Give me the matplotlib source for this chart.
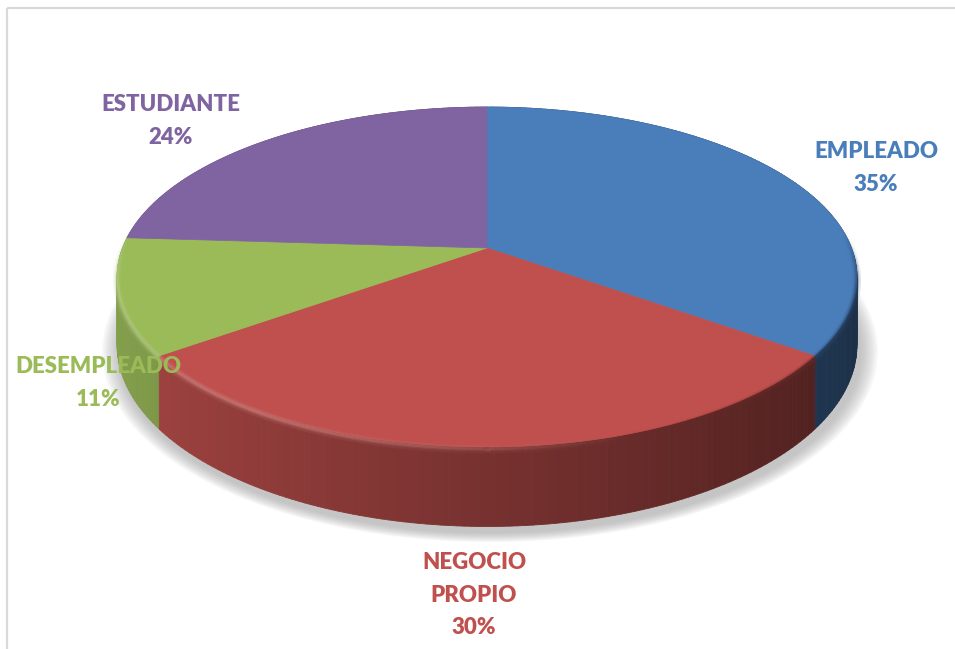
import numpy as np
import matplotlib.pyplot as plt
from matplotlib.patches import Polygon
from matplotlib.collections import PolyCollection, LineCollection
from matplotlib.colors import to_rgb

# occupation split
labels = ['EMPLEADO', 'NEGOCIO\nPROPIO', 'DESEMPLEADO', 'ESTUDIANTE']
values = [35, 30, 11, 24]
colors = ['#4A7EBB', '#C0504D', '#9BBB59', '#8064A2']

# where each label sits (pixel coords, y down)
label_pos = [(876, 168), (474, 595), (98, 383), (171, 121)]

# pie projection: perspective tilt, clockwise from 12 o'clock
cx, cy = 487, 248
A, B, K, D = 364.5, 165, 0.1705, 66


def project(phi, depth=0.0):
    u = np.sin(phi)
    v = np.cos(phi)
    w = 1 + K * v
    return cx + A * u / w, cy - B * v / w + depth * D / w


def shade(col, f):
    r, g, b = to_rgb(col)
    if f >= 1:
        t = f - 1
        return (r + (1 - r) * t, g + (1 - g) * t, b + (1 - b) * t)
    return (r * f, g * f, b * f)


fig = plt.figure(figsize=(9.55, 6.49), dpi=100)
ax = fig.add_axes([0, 0, 1, 1])
ax.set_xlim(0, 955)
ax.set_ylim(649, 0)
ax.axis('off')

# frame lines
ax.plot([7, 7], [8, 649], color='#D9D9D9', lw=1.6, solid_capstyle='butt')
ax.plot([7, 955], [8, 8], color='#D9D9D9', lw=1.6, solid_capstyle='butt')

total = sum(values)
bounds = np.concatenate([[0], np.cumsum(values)]) / total * 2 * np.pi

# soft shadow under the pie
full = np.linspace(0, 2 * np.pi, 361)
bx, by = project(full, 1.0)
mx, my = bx.mean(), by.mean()
for s in range(14, 0, -1):
    g = 1 + s * 0.0035
    ax.add_patch(Polygon(np.column_stack([mx + (bx - mx) * g + 3, my + (by - my) * g + 6]),
                         closed=True, fc='#9A9A9A', ec='none', alpha=0.05))

# rim, drawn far to near
quads, qcols, qv = [], [], []
for i in range(len(values)):
    ph = np.linspace(bounds[i], bounds[i + 1], max(int(np.degrees(bounds[i + 1] - bounds[i])), 2) + 1)
    for a0, a1 in zip(ph[:-1], ph[1:]):
        x0, y0 = project(a0)
        x1, y1 = project(a1)
        x2, y2 = project(a1, 1.0)
        x3, y3 = project(a0, 1.0)
        am = 0.5 * (a0 + a1)
        f = 0.62 - 0.24 * np.sin(am)
        quads.append([(x0, y0), (x1, y1), (x2, y2), (x3, y3)])
        qcols.append(shade(colors[i], f))
        qv.append(np.cos(am))
order = np.argsort(qv)[::-1]
ax.add_collection(PolyCollection([quads[k] for k in order],
                                 facecolors=[qcols[k] for k in order],
                                 edgecolors=[qcols[k] for k in order], linewidths=0.6))

# top faces
for i in range(len(values)):
    ph = np.linspace(bounds[i], bounds[i + 1], 200)
    x, y = project(ph)
    pts = np.column_stack([np.r_[cx, x], np.r_[cy, y]])
    ax.add_patch(Polygon(pts, closed=True, fc=colors[i], ec=colors[i], lw=0.5))

# bevel along the top edge: soft light on the left, shade on the right
for lw, off, amax in [(6, 2.5, 0.15), (3.5, 2.0, 0.3), (1.8, 1.8, 0.45)]:
    segs, scols = [], []
    for i in range(len(values)):
        ph = np.linspace(bounds[i], bounds[i + 1], 150)
        x, y = project(ph)
        for k in range(len(ph) - 1):
            u = np.sin(ph[k])
            v = np.cos(ph[k])
            fade = np.clip((0.1 - v) / 0.3, 0, 1)
            lit = np.clip((0.35 - u) / 0.9, 0, 1)
            dark = np.clip((u - 0.3) / 0.6, 0, 1)
            segs.append([(x[k], y[k] + off), (x[k + 1], y[k + 1] + off)])
            if lit >= dark:
                scols.append(shade(colors[i], 1.3) + (amax * lit * fade,))
            else:
                scols.append(shade(colors[i], 0.55) + (amax * dark * fade,))
    ax.add_collection(LineCollection(segs, colors=scols, linewidths=lw, capstyle='butt'))

# labels
for i in range(len(values)):
    txt = f'{labels[i]}\n{values[i]}%'
    ax.text(label_pos[i][0], label_pos[i][1], txt, ha='center', va='center',
            color=colors[i], fontsize=16, fontweight='heavy', family='Lato',
            linespacing=1.68)

fig.savefig('out.png', dpi=100)
